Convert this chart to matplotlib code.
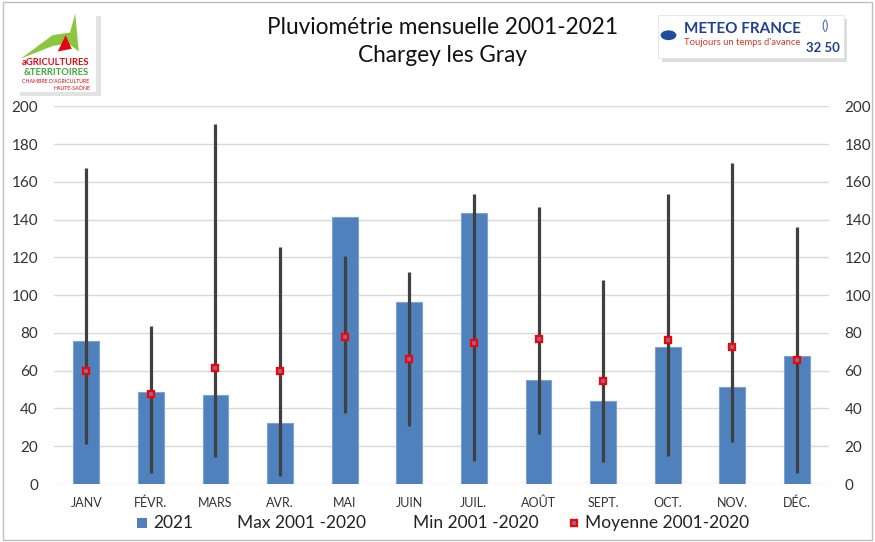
import matplotlib
matplotlib.use("Agg")
import matplotlib.pyplot as plt
from matplotlib.patches import Rectangle, Polygon, Circle
from matplotlib.lines import Line2D

months = ["JANV", "FÉVR.", "MARS", "AVR.", "MAI", "JUIN", "JUIL.", "AOÛT", "SEPT.", "OCT.", "NOV.", "DÉC."]
rain_2021 = [75.7, 48.5, 47.1, 32.3, 141.3, 96.6, 143.4, 54.8, 43.9, 72.5, 51.6, 68.0]
max_2001_2020 = [167.5, 83.4, 190.6, 125.4, 120.8, 112.5, 153.4, 146.4, 108.1, 153.4, 169.8, 136.3]
min_2001_2020 = [21.2, 5.8, 14.3, 4.0, 37.6, 30.8, 12.2, 26.5, 11.6, 14.6, 22.0, 5.8]
mean_2001_2020 = [60.0, 47.6, 61.5, 60.0, 77.6, 66.1, 74.4, 76.9, 54.7, 76.2, 72.3, 65.4]
yticks = [0, 20, 40, 60, 80, 100, 120, 140, 160, 180, 200]
legend_labels = ["2021", "Max 2001 -2020", "Min 2001 -2020", "Moyenne 2001-2020"]

plt.rcParams['font.family'] = ['Lato', 'DejaVu Sans']
tick_color = "#333333"
W, H = 875.0, 542.0

fig = plt.figure(figsize=(8.75, 5.42), dpi=100)
fig.patch.set_facecolor("white")
fig.add_artist(Rectangle((0.003, 0.003), 0.994, 0.994, transform=fig.transFigure,
                         fill=False, edgecolor="#bfbfbf", lw=1.0))

ax = fig.add_axes([0.0617, 0.107, 0.886, 0.697])
x = list(range(len(months)))
ax.bar(x, rain_2021, width=0.4, color="#4f81bd", edgecolor="#7ea3d3", lw=0.8, zorder=2)
ax.vlines(x, min_2001_2020, max_2001_2020, color="#404040", lw=2.3, zorder=3)
ax.plot(x, mean_2001_2020, ls="none", marker="s", ms=4.6, mfc="#7f6ea8", mec="#ff0000",
        mew=1.6, zorder=4)

ax.set_xlim(-0.5, 11.5)
ax.set_ylim(0, 200)
ax.set_yticks(yticks)
ax.set_xticks(x)
ax.set_xticklabels(months, fontsize=9)
ax.tick_params(axis="both", length=0, colors=tick_color)
ax.tick_params(axis="y", labelsize=11, pad=11.5)
ax.tick_params(axis="x", pad=9)
ax.grid(axis="y", color="#d9d9d9", lw=1.0, zorder=0)
for s in ax.spines.values():
    s.set_visible(False)

ax2 = ax.twinx()
ax2.set_ylim(0, 200)
ax2.set_yticks(yticks)
ax2.tick_params(axis="y", length=0, labelsize=11, pad=11, colors=tick_color)
for s in ax2.spines.values():
    s.set_visible(False)

fig.text(0.506, 0.949, "Pluviométrie mensuelle 2001-2021", ha="center", va="center",
         fontsize=16.3, color="#111111")
fig.text(0.506, 0.898, "Chargey les Gray", ha="center", va="center", fontsize=16.3,
         color="#111111")

# legend laid out manually (bottom row)
ly = 1 - 523 / H
fig.add_artist(Rectangle((137 / W, 1 - 528 / H), 10 / W, 10 / H, transform=fig.transFigure,
                         facecolor="#4f81bd", edgecolor="none"))
fig.add_artist(Line2D([574 / W], [ly], transform=fig.transFigure, ls="none", marker="s",
                      ms=5, mfc="#7f6ea8", mec="#ff0000", mew=1.6))
for lx, lab in zip([153, 237, 413, 585], legend_labels):
    fig.text(lx / W, ly, lab, ha="left", va="center", fontsize=12.5, color="#222222")

# left logo (Agricultures & Territoires) - simplified
fig.add_artist(Rectangle((0.023, 0.822), 0.092, 0.148, transform=fig.transFigure,
                         facecolor="#c8c8c8", edgecolor="none", alpha=0.5, zorder=5))
fig.add_artist(Rectangle((0.018, 0.830), 0.092, 0.148, transform=fig.transFigure,
                         facecolor="white", edgecolor="none", zorder=6))
fig.add_artist(Polygon([(0.024, 0.892), (0.060, 0.935), (0.080, 0.940), (0.086, 0.975),
                        (0.090, 0.905), (0.078, 0.920), (0.060, 0.915)], closed=True,
                       transform=fig.transFigure, facecolor="#8cc63f", edgecolor="none", zorder=7))
fig.add_artist(Polygon([(0.066, 0.905), (0.075, 0.935), (0.082, 0.910)], closed=True,
                       transform=fig.transFigure, facecolor="#e30613", edgecolor="none", zorder=8))
fig.text(0.064, 0.884, "aGRICULTURES", ha="center", va="center", fontsize=6.8,
         color="#e30613", zorder=8, fontweight="bold")
fig.text(0.064, 0.866, "&TERRITOIRES", ha="center", va="center", fontsize=6.8,
         color="#3aaa35", zorder=8, fontweight="bold")
fig.text(0.064, 0.850, "CHAMBRE D'AGRICULTURE", ha="center", va="center", fontsize=3.8,
         color="#e30613", zorder=8)
fig.text(0.082, 0.837, "HAUTE-SAÔNE", ha="center", va="center", fontsize=3.8,
         color="#e30613", zorder=8)

# right logo (Meteo France) - simplified
fig.add_artist(Rectangle((0.756, 0.885), 0.212, 0.080, transform=fig.transFigure,
                         facecolor="#bdbdbd", edgecolor="none", alpha=0.5, zorder=5))
fig.add_artist(Rectangle((0.752, 0.893), 0.212, 0.080, transform=fig.transFigure,
                         facecolor="white", edgecolor="#dddddd", lw=0.5, zorder=6))
fig.add_artist(Circle((0.764, 0.935), 0.009, transform=fig.transFigure,
                      facecolor="#1f4e9c", edgecolor="none", zorder=7))
fig.text(0.782, 0.946, "METEO FRANCE", ha="left", va="center", fontsize=11,
         color="#1f3f8f", fontweight="bold", zorder=8)
fig.text(0.782, 0.921, "Toujours un temps d'avance", ha="left", va="center", fontsize=6.8,
         color="#d93a2b", zorder=8)
fig.text(0.940, 0.912, "32 50", ha="center", va="center", fontsize=9.5,
         color="#1f3f8f", fontweight="bold", zorder=8)
fig.text(0.943, 0.952, "()", ha="center", va="center", fontsize=10, color="#4a6fb0", zorder=8)

fig.savefig("out.png", dpi=100)
